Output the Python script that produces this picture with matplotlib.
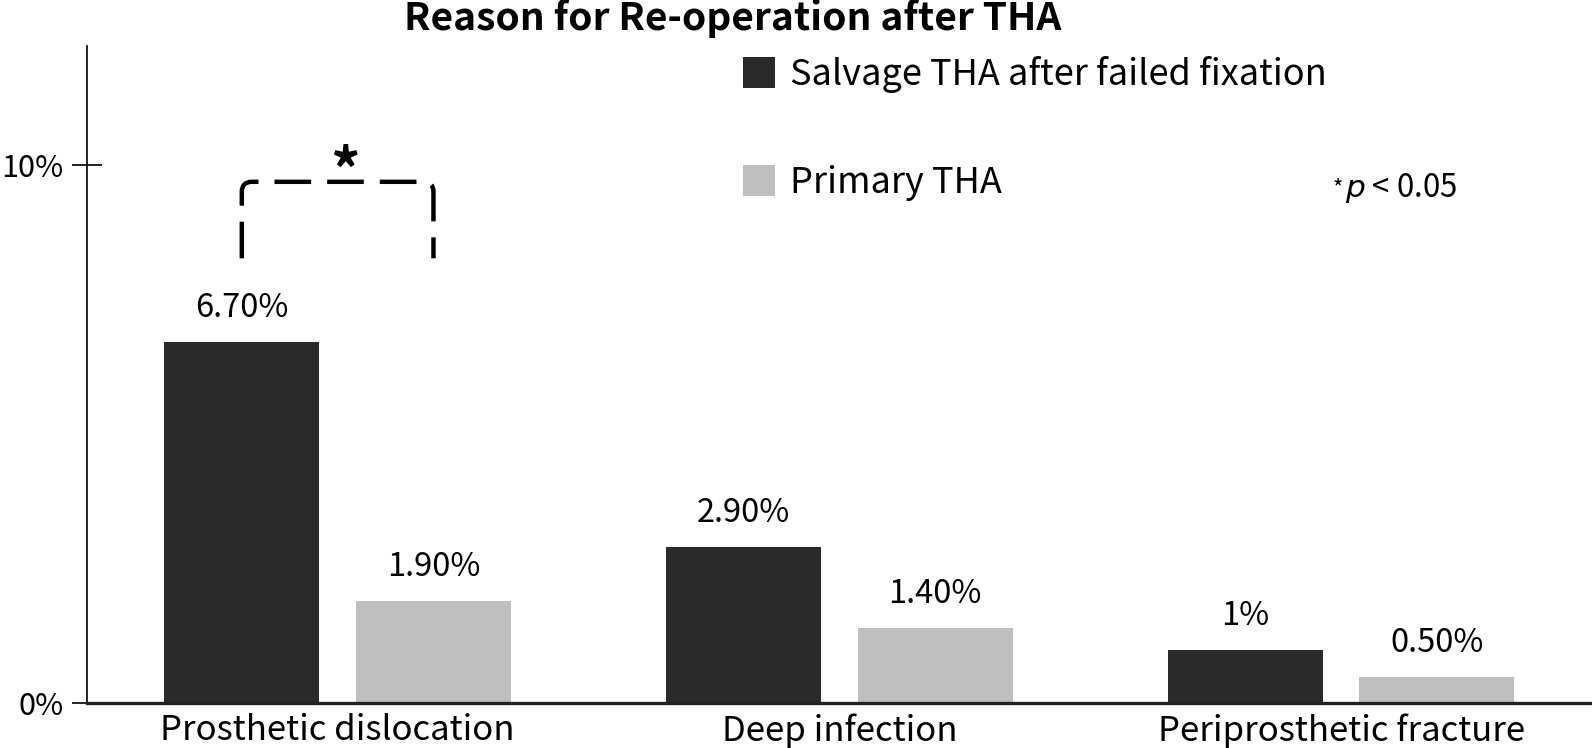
import matplotlib
matplotlib.use("Agg")
import matplotlib.pyplot as plt
from matplotlib.patches import Patch, PathPatch
from matplotlib.path import Path
import numpy as np

plt.rcParams['font.family'] = ['Noto Sans CJK KR', 'DejaVu Sans']

categories = ["Prosthetic dislocation", "Deep infection", "Periprosthetic fracture"]
salvage = [6.7, 2.9, 1.0]
primary = [1.9, 1.4, 0.5]
salvage_labels = ["6.70%", "2.90%", "1%"]
primary_labels = ["1.90%", "1.40%", "0.50%"]
series_names = ["Salvage THA after failed fixation", "Primary THA"]
yticks = [0, 10]
ytick_labels = ["0%", "10%"]
title = "Reason for Re-operation after THA"

dark = "#2a2a2a"
light = "#bfbfbf"

fig = plt.figure(figsize=(15.92, 7.48), dpi=100)
ax = fig.add_axes([0.0545, 0.0595, 0.9455, 0.879])

x = np.arange(len(categories))
w = 0.309
off = 0.191
ax.bar(x - off, salvage, w, color=dark)
ax.bar(x + off, primary, w, color=light)

for xi, v, t in zip(x, salvage, salvage_labels):
    ax.annotate(t, (xi - off, v), xytext=(0, 18), textcoords='offset points',
                ha='center', va='baseline', fontsize=23.5)
for xi, v, t in zip(x, primary, primary_labels):
    ax.annotate(t, (xi + off, v), xytext=(0, 18), textcoords='offset points',
                ha='center', va='baseline', fontsize=23.5)

ax.set_xlim(-0.5, 2.5)
ax.set_ylim(0, 12.2)
ax.set_xticks(x)
ax.set_xticklabels(categories, fontsize=25)
ax.tick_params(axis='x', length=0, pad=7)
ax.set_yticks(yticks)
ax.set_yticklabels(ytick_labels, fontsize=22)
ax.tick_params(axis='y', direction='inout', length=21, width=1.2, pad=6)

for s in ['top', 'right']:
    ax.spines[s].set_visible(False)
ax.spines['left'].set_linewidth(1.2)
ax.spines['bottom'].set_linewidth(2.4)
ax.spines['bottom'].set_color('#222222')

# significance bracket with rounded corners
x1, x2 = x[0] - off, x[0] + off
ytop, ylow = 9.68, 8.26
rx, ry = 0.02, 0.186
verts = [(x1, ylow), (x1, ytop - ry), (x1, ytop), (x1 + rx, ytop),
         (x2 - rx, ytop), (x2, ytop), (x2, ytop - ry), (x2, ylow)]
codes = [Path.MOVETO, Path.LINETO, Path.CURVE3, Path.CURVE3,
         Path.LINETO, Path.CURVE3, Path.CURVE3, Path.LINETO]
ax.add_patch(PathPatch(Path(verts, codes), fill=False, edgecolor='black', lw=3.2,
                       linestyle=(0, (8.25, 3.6)), capstyle='butt', joinstyle='round'))
ax.text((x1 + x2) / 2 + 0.014, 9.25, "*", ha='center', va='bottom', fontsize=42,
        fontweight='bold')

handles = [Patch(facecolor=dark), Patch(facecolor=light)]
fig.legend(handles, series_names, loc='upper left', bbox_to_anchor=(0.4667, 0.925),
           frameon=False, fontsize=26, handlelength=0.886, handleheight=0.95,
           handletextpad=0.415, labelspacing=2.0, borderaxespad=0, borderpad=0)

fig.text(0.8373, 0.739, "*", fontsize=16, ha='left', va='baseline')
fig.text(0.845, 0.736, "$\\it{p}$ < 0.05", fontsize=22.5, ha='left', va='baseline')

fig.text(0.46, 0.975, title, fontsize=28, fontweight='bold', ha='center', va='center')

fig.savefig("out.png", dpi=100)
